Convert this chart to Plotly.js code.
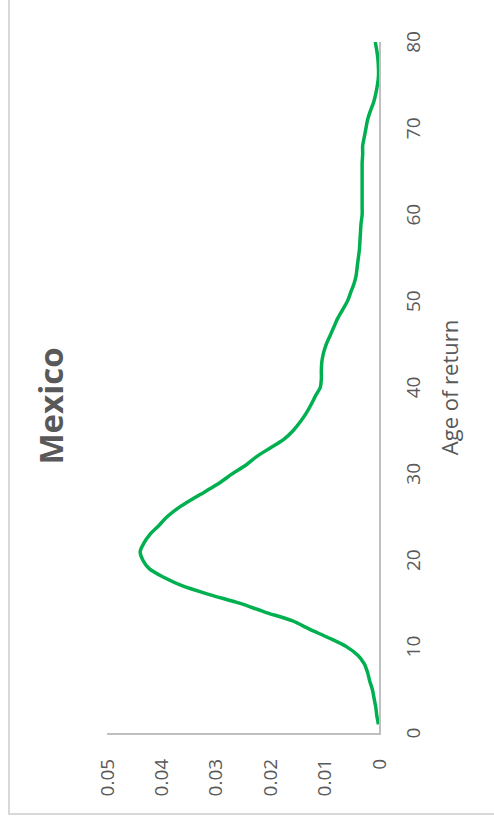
<!DOCTYPE html>
<html>
<head>
<meta charset="utf-8">
<script src="https://cdn.plot.ly/plotly-3.0.1.min.js"></script>
<style>
  html, body { margin: 0; padding: 0; overflow: hidden; background: #ffffff; width: 494px; height: 820px; }
  #rot { position: absolute; left: 0; top: 820px; width: 820px; height: 494px;
         transform-origin: 0 0; transform: rotate(-90deg); }
  #frame { position: absolute; left: 5px; top: 8px; width: 900px; height: 600px;
           border: 2px solid #d9d9d9; box-sizing: border-box; }
  #chart { position: absolute; left: 0; top: 0; width: 820px; height: 494px; }
</style>
</head>
<body>
<div id="rot">
  <div id="frame"></div>
  <div id="chart"></div>
</div>
<script>
const chartTitle = "Mexico";
const xTitle = "Age of return";
const ages = [];
for (let a = 1; a <= 80; a++) ages.push(a);
const density = [
  0.0001, 0.0004, 0.0006, 0.0009, 0.0012, 0.0017, 0.0021, 0.0027, 0.0039, 0.0060,
  0.0092, 0.0127, 0.0160, 0.0210, 0.0255, 0.0310, 0.0360, 0.0395, 0.0422, 0.0434,
  0.0439, 0.0432, 0.0421, 0.0405, 0.0390, 0.0370, 0.0345, 0.0318, 0.0292, 0.0270,
  0.0245, 0.0225, 0.0200, 0.0175, 0.0158, 0.0145, 0.0134, 0.0125, 0.0117, 0.0108,
  0.0106, 0.0106, 0.0105, 0.0102, 0.0097, 0.0090, 0.0083, 0.0076, 0.0067, 0.0058,
  0.0052, 0.0046, 0.0042, 0.0040, 0.0038, 0.0036, 0.0035, 0.0034, 0.0033, 0.0031,
  0.0031, 0.0031, 0.0031, 0.0031, 0.0031, 0.0031, 0.0030, 0.0030, 0.0027, 0.0024,
  0.0021, 0.0016, 0.0010, 0.0006, 0.0003, 0.0001, 0.0001, 0.0002, 0.0004, 0.0007
];
const xTickVals = [0, 10, 20, 30, 40, 50, 60, 70, 80];
const yTickVals = [0, 0.01, 0.02, 0.03, 0.04, 0.05];
const yTickText = ["0", "0.01", "0.02", "0.03", "0.04", "0.05"];

const grey = "#595959";
const font = "Open Sans, Liberation Sans, sans-serif";

Plotly.newPlot("chart", [{
  x: ages, y: density, type: "scatter", mode: "lines",
  line: { color: "#00b050", width: 3.5, shape: "spline", smoothing: 0.8 },
  hoverinfo: "skip"
}], {
  width: 820, height: 494,
  margin: { l: 87, r: 42, t: 107, b: 115, pad: 0 },
  paper_bgcolor: "rgba(0,0,0,0)", plot_bgcolor: "rgba(0,0,0,0)",
  showlegend: false,
  title: { text: chartTitle, x: 0.505, xref: "container", xanchor: "center",
           y: 0.895, yref: "container", yanchor: "middle",
           font: { family: font, size: 33, color: grey, weight: 700 } },
  xaxis: {
    range: [0, 80], tickvals: xTickVals, ticks: "", showgrid: false, zeroline: false,
    showline: true, linecolor: "#bfbfbf", linewidth: 2,
    tickfont: { family: font, size: 19, color: grey }, ticklabelstandoff: 16,
    title: { text: xTitle, font: { family: font, size: 22, color: grey }, standoff: 18 }
  },
  yaxis: {
    range: [0, 0.05], tickvals: yTickVals, ticktext: yTickText, ticks: "",
    showgrid: false, zeroline: false,
    showline: true, linecolor: "#bfbfbf", linewidth: 2,
    tickfont: { family: font, size: 19, color: grey }, ticklabelstandoff: 20
  }
}, { staticPlot: true, displayModeBar: false });
</script>
</body>
</html>
